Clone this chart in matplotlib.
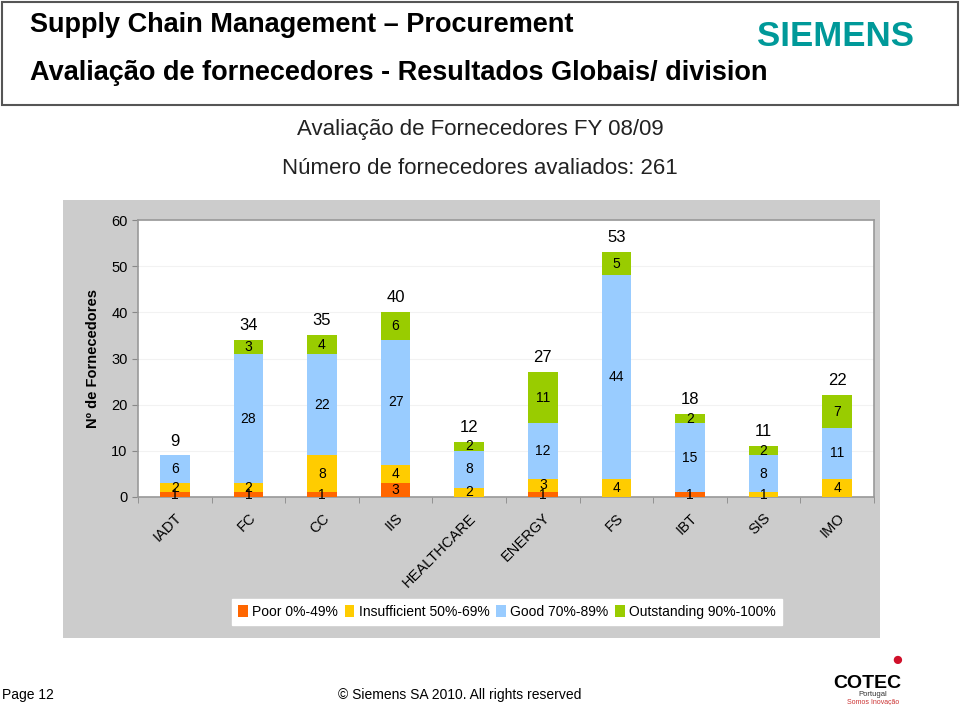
import numpy as np
import matplotlib
matplotlib.use("Agg")
import matplotlib.pyplot as plt
from matplotlib.patches import Rectangle

plt.rcParams['font.family'] = ['Liberation Sans', 'DejaVu Sans']

categories = ['IADT', 'FC', 'CC', 'IIS', 'HEALTHCARE', 'ENERGY', 'FS', 'IBT', 'SIS', 'IMO']
poor = [1, 1, 1, 3, 0, 1, 0, 1, 0, 0]
insufficient = [2, 2, 8, 4, 2, 3, 4, 0, 1, 4]
good = [6, 28, 22, 27, 8, 12, 44, 15, 8, 11]
outstanding = [0, 3, 4, 6, 2, 11, 5, 2, 2, 7]

series_names = ['Poor 0%-49%', 'Insufficient 50%-69%', 'Good 70%-89%', 'Outstanding 90%-100%']
colors = ['#FF6600', '#FFCC00', '#99CCFF', '#99CC00']

fig = plt.figure(figsize=(9.6, 7.05), dpi=100)
W, H = 960.0, 705.0

# header box
fig.patches.append(Rectangle((2 / W, 1 - 105 / H), 956 / W, 103 / H, transform=fig.transFigure,
                             facecolor='white', edgecolor='#555555', linewidth=1.5, zorder=-2))
fig.text(30 / W, 1 - 25 / H, 'Supply Chain Management \u2013 Procurement', fontsize=19.5,
         fontweight='bold', va='center', ha='left')
fig.text(30 / W, 1 - 73 / H, 'Avaliação de fornecedores - Resultados Globais/ division', fontsize=19.5,
         fontweight='bold', va='center', ha='left')
fig.text(835 / W, 1 - 37 / H, 'SIEMENS', fontsize=25, fontweight='bold', color='#009999',
         va='center', ha='center')

# chart titles
fig.text(480 / W, 1 - 130 / H, 'Avaliação de Fornecedores FY 08/09', fontsize=16, color='#222222',
         ha='center', va='center')
fig.text(480 / W, 1 - 168 / H, 'Número de fornecedores avaliados: 261', fontsize=16, color='#222222',
         ha='center', va='center')

# grey chart panel
fig.patches.append(Rectangle((63 / W, 1 - 638 / H), 817 / W, 438 / H, transform=fig.transFigure,
                             facecolor='#cccccc', edgecolor='none', zorder=-2))

ax = fig.add_axes([138 / W, 1 - 497 / H, 736 / W, 277 / H])
ax.set_facecolor('white')

x = np.arange(len(categories))
data = [poor, insufficient, good, outstanding]
bottom = np.zeros(len(categories))
for vals, name, c in zip(data, series_names, colors):
    vals = np.array(vals)
    ax.bar(x, vals, 0.4, bottom=bottom, color=c, label=name, zorder=3)
    for xi, v, b in zip(x, vals, bottom):
        if v > 0:
            ax.text(xi, b + v / 2, str(v), ha='center', va='center', fontsize=10, zorder=4)
    bottom = bottom + vals

for xi, t in zip(x, bottom):
    ax.annotate(str(int(t)), (xi, t), xytext=(0, 5), textcoords='offset points',
                ha='center', va='bottom', fontsize=12)

ax.set_xlim(-0.5, len(categories) - 0.5)
ax.set_ylim(0, 60)
ax.set_yticks(range(0, 61, 10))
ax.tick_params(axis='y', labelsize=10.5, length=4, color='#888888')
ax.set_xticks(x)
ax.set_xticklabels(categories, rotation=45, ha='right', va='top', fontsize=10.5,
                   rotation_mode='anchor')
ax.tick_params(axis='x', length=0, pad=10)
ax.set_xticks(np.arange(-0.5, len(categories)), minor=True)
ax.tick_params(axis='x', which='minor', length=4, color='#888888')
ax.grid(axis='y', color='#f2f2f2', linewidth=0.8, zorder=0)
for s in ax.spines.values():
    s.set_color('#999999')
    s.set_linewidth(1.2)
ax.set_ylabel('Nº de Fornecedores', fontsize=10.5, fontweight='bold', labelpad=8)

leg = fig.legend(loc='center', bbox_to_anchor=(507 / W, 1 - 612 / H), ncol=4, fontsize=10,
                 frameon=True, fancybox=False, framealpha=1, handlelength=0.7, handleheight=0.9,
                 handletextpad=0.3, columnspacing=0.5, borderpad=0.4, borderaxespad=0)
leg.get_frame().set_edgecolor('white')
leg.get_frame().set_facecolor('white')

# footer
fig.text(2 / W, 1 - 695 / H, 'Page 12', fontsize=10, ha='left', va='center')
fig.text(460 / W, 1 - 695 / H, '\u00a9 Siemens SA 2010. All rights reserved', fontsize=10,
         ha='center', va='center')
fig.text(867 / W, 1 - 683 / H, 'COTEC', fontsize=14, fontweight='bold', ha='center', va='center')
fig.text(873 / W, 1 - 695 / H, 'Portugal', fontsize=5.5, ha='center', va='center', color='#333333')
fig.text(873 / W, 1 - 702 / H, 'Somos Inovação', fontsize=5, ha='center', va='center', color='#cc3333')
fig.text(897 / W, 1 - 660 / H, '\u25cf', fontsize=14, color='#d0102a', ha='center', va='center')

fig.savefig('out.png', dpi=100)
